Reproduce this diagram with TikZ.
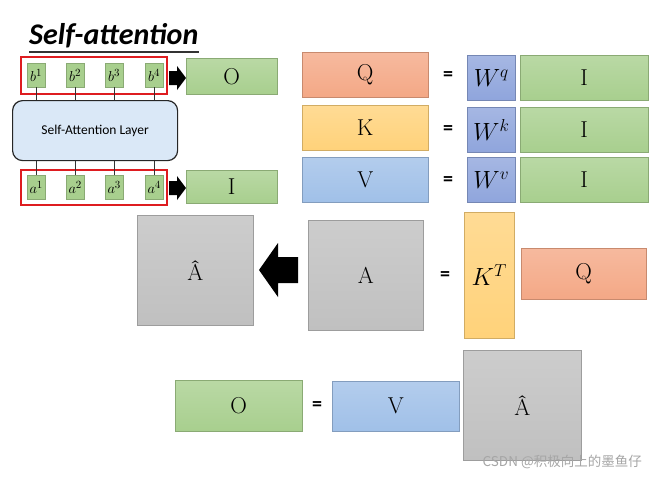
\documentclass[tikz,border=0pt]{standalone}
\usepackage{fontspec}
\setsansfont{Carlito}
\newfontfamily\cjkfont{Noto Sans CJK SC}
\usetikzlibrary{positioning}
\definecolor{qcol}{RGB}{244,168,134}
\definecolor{kcol}{RGB}{255,210,122}
\definecolor{vcol}{RGB}{160,192,232}
\definecolor{wcol}{RGB}{143,165,220}
\definecolor{gcol}{RGB}{168,207,142}
\definecolor{acol}{RGB}{192,192,192}
\definecolor{lcol}{RGB}{218,232,247}
\definecolor{rcol}{RGB}{222,28,32}
\tikzset{
  mbox/.style={anchor=north west, inner sep=0pt, draw=#1!82!black, line width=0.5pt,
     top color=#1!80!white, bottom color=#1, font=\fontsize{23}{23}\selectfont},
  small/.style={anchor=north west, inner sep=0pt, fill=gcol, draw=gcol!82!black, line width=0.4pt,
     minimum width=18pt, minimum height=24pt, font=\fontsize{15}{15}\selectfont},
  eqs/.style={font=\sffamily\bfseries\fontsize{20}{20}\selectfont},
  mth/.style={font=\fontsize{25}{25}\selectfont},
  redbox/.style={draw=rcol, line width=2.6pt},
  link/.style={draw=black!80, line width=1pt},
  blk/.style={fill=black}
}
\begin{document}
\begin{tikzpicture}[x=1pt,y=-1pt]
\useasboundingbox[fill=white] (0,0) rectangle (658,477);

% title
\node[anchor=base west, inner sep=0pt, font=\sffamily\bfseries\itshape\fontsize{30}{30}\selectfont] (title) at (29,44) {Self-attention};
\draw[line width=1.2pt, black!80] (title.south west |- 0,52) coordinate (ul1) -- (title.south east |- 0,52) coordinate (ul2);

% top block
\node[small] (b1) at (27,63) {$b^1$};
\node[small] (b2) at (66,63) {$b^2$};
\node[small] (b3) at (105,63) {$b^3$};
\node[small] (b4) at (145,63) {$b^4$};
\draw[redbox] (21,57) rectangle (167,94);

\node[anchor=north west, inner sep=0pt, draw=black!85, line width=1.2pt, rounded corners=10pt,
  fill=lcol, minimum width=165pt, minimum height=60pt, font=\sffamily\fontsize{13.5}{14}\selectfont] (layer) at (12,100) {Self-Attention Layer};

\node[small] (a1) at (27,175) {$a^1$};
\node[small] (a2) at (66,175) {$a^2$};
\node[small] (a3) at (105,175) {$a^3$};
\node[small] (a4) at (145,175) {$a^4$};
\draw[redbox] (21,170) rectangle (167,205);

\foreach \i in {1,2,3,4}{
  \draw[link] (b\i.south) -- (b\i.south |- layer.north);
  \draw[link] (a\i.north) -- (a\i.north |- layer.south);
}

% small arrows
\fill[blk] (169,71) -- (177,71) -- (177,66) -- (186,78) -- (177,90) -- (177,85) -- (169,85) -- cycle;
\fill[blk] (169,181) -- (177,181) -- (177,176) -- (186,188) -- (177,200) -- (177,195) -- (169,195) -- cycle;

\node[mbox=gcol, minimum width=91pt, minimum height=36pt] (O1) at (186,58) {O};
\node[mbox=gcol, minimum width=91pt, minimum height=33pt] (I0) at (186,170) {I};

% Q K V
\node[mbox=qcol, minimum width=126pt, minimum height=45pt] (Q) at (302,52) {Q};
\node[mbox=kcol, minimum width=126pt, minimum height=45pt] (K) at (302,105) {K};
\node[mbox=vcol, minimum width=126pt, minimum height=45pt] (V) at (302,157) {V};
\node[eqs] (e1) at (448,76) {=};
\node[eqs] (e2) at (448,130) {=};
\node[eqs] (e3) at (448,181) {=};
\node[mbox=wcol, mth, minimum width=48pt, minimum height=45pt] (Wq) at (467,55) {$W^q$};
\node[mbox=wcol, mth, minimum width=48pt, minimum height=45pt] (Wk) at (467,107) {$W^k$};
\node[mbox=wcol, mth, minimum width=48pt, minimum height=45pt] (Wv) at (467,157) {$W^v$};
\node[mbox=gcol, minimum width=128pt, minimum height=45pt] (I1) at (520,55) {I};
\node[mbox=gcol, minimum width=128pt, minimum height=45pt] (I2) at (520,107) {I};
\node[mbox=gcol, minimum width=128pt, minimum height=45pt] (I3) at (520,157) {I};

% A row
\node[mbox=acol, minimum width=116pt, minimum height=110pt] (Ah) at (137,215) {Â};
\fill[blk] (298,257) -- (278,257) -- (278,243) -- (259,270) -- (278,297) -- (278,283) -- (298,283) -- cycle;
\node[mbox=acol, minimum width=115pt, minimum height=110pt] (A) at (308,220) {A};
\node[eqs] (e4) at (445,276) {=};
\node[mbox=kcol, mth, minimum width=50pt, minimum height=126pt] (KT) at (464,212) {$K^T$};
\node[mbox=qcol, minimum width=125pt, minimum height=51pt] (Q2) at (521,248) {Q};

% O row
\node[mbox=gcol, minimum width=127pt, minimum height=51pt] (O2) at (175,380) {O};
\node[eqs] (e5) at (317,406) {=};
\node[mbox=vcol, minimum width=127pt, minimum height=50pt] (V2) at (332,381) {V};
\node[mbox=acol, minimum width=118pt, minimum height=110pt] (Ah2) at (463,350) {Â};

% watermark
\node[anchor=east, inner sep=0pt, text=black!35, font=\cjkfont\fontsize{13.5}{14}\selectfont] (wm) at (642,462) {CSDN @积极向上的墨鱼仔};
\end{tikzpicture}
\end{document}
